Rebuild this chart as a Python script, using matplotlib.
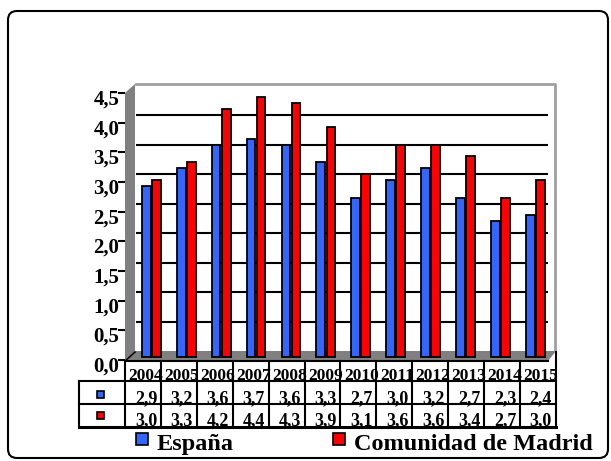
import matplotlib
matplotlib.use("Agg")
import matplotlib.pyplot as plt
import numpy as np
from matplotlib.patches import Polygon, FancyBboxPatch, Rectangle
from matplotlib.transforms import ScaledTranslation

years = ["2004", "2005", "2006", "2007", "2008", "2009",
         "2010", "2011", "2012", "2013", "2014", "2015"]
espana = [2.9, 3.2, 3.6, 3.7, 3.6, 3.3, 2.7, 3.0, 3.2, 2.7, 2.3, 2.4]
madrid = [3.0, 3.3, 4.2, 4.4, 4.3, 3.9, 3.1, 3.6, 3.6, 3.4, 2.7, 3.0]
series_names = ["España", "Comunidad de Madrid"]
series_colors = ["#3366ff", "#ff0000"]
y_ticks = [0.0, 0.5, 1.0, 1.5, 2.0, 2.5, 3.0, 3.5, 4.0, 4.5]

W, H, DPI = 611, 461, 100
plt.rcParams["font.family"] = ["Liberation Serif", "DejaVu Serif"]
plt.rcParams["font.weight"] = "bold"


def fmt(v):
    return f"{v:.1f}".replace(".", ",")


def frac(x0, y0, x1, y1):
    # pixel box, origin top-left -> figure fraction rect
    return [x0 / W, 1 - y1 / H, (x1 - x0) / W, (y1 - y0) / H]


fig = plt.figure(figsize=(W / DPI, H / DPI), dpi=DPI)

# pixel-space layer: frame, 3D walls, data table, legend
deco = fig.add_axes([0, 0, 1, 1], zorder=0)
deco.set_xlim(0, W)
deco.set_ylim(H, 0)
deco.axis("off")

deco.add_patch(FancyBboxPatch((8, 11), 600, 447,
                              boxstyle="round,pad=0,rounding_size=9",
                              fill=False, lw=1.5, ec="black"))

# left wall and floor
deco.add_patch(Polygon([(125, 360), (125, 93), (135, 84), (135, 351)],
                       closed=True, fc="#808080", ec="none"))
deco.add_patch(Polygon([(126, 361), (136, 351), (556, 351), (548, 361)],
                       closed=True, fc="#808080", ec="none"))
deco.plot([125, 548], [361, 361], color="black", lw=1.5)
deco.plot([125, 135], [361, 352], color="black", lw=1.2)
deco.plot([136, 555, 555], [84, 84, 351], color="#a0a0a0", lw=2)

# data table under the floor
col_x0, col_w = 125, 35.9
col_x1 = col_x0 + len(years) * col_w
key_x0 = 79
for i in range(len(years) + 1):
    xx = col_x0 + i * col_w
    deco.plot([xx, xx], [361 if i < len(years) else 352, 426], color="black", lw=1.5)
deco.plot([key_x0, key_x0], [381, 426], color="black", lw=1.5)
deco.plot([key_x0, col_x1], [381, 381], color="black", lw=1.5)
deco.plot([key_x0, col_x1], [404, 404], color="black", lw=1.5)
deco.plot([key_x0, col_x1], [426.5, 426.5], color="black", lw=2.2)

for i, yr in enumerate(years):
    cx = col_x0 + (i + 0.5) * col_w + 3
    deco.text(cx, 379.5, yr, ha="center", va="baseline", fontsize=12.5, fontweight="bold")
    deco.text(cx, 403, fmt(espana[i]), ha="center", va="baseline", fontsize=13, fontweight="bold")
    deco.text(cx, 425.5, fmt(madrid[i]), ha="center", va="baseline", fontsize=13, fontweight="bold")

for cy, c in zip([394, 415], series_colors):
    deco.add_patch(Rectangle((96.5, cy - 3.5), 7, 7, fc=c, ec="black", lw=1.2))

# legend
for lx, name, c in zip([136, 333], series_names, series_colors):
    deco.add_patch(Rectangle((lx, 433), 12, 12, fc=c, ec="black", lw=1.2))
    deco.text(lx + 21, 450, name, ha="left", va="baseline", fontsize=17.5, fontweight="bold")

# back wall with gridlines and bars
ax = fig.add_axes(frac(134, 85.8, 553, 351.3), zorder=1)
ax.patch.set_alpha(0)
ax.axis("off")
ax.set_xlim(0, len(years))
ax.set_ylim(0, 4.5)
ax.hlines(y_ticks[1:-1], 0.07, 11.85, colors="black", lw=1.5, zorder=1)

shift = ax.transData + ScaledTranslation(0, -5.7 / DPI, fig.dpi_scale_trans)
x = np.arange(len(years)) + 0.5
for vals, off, c in zip([espana, madrid], [-0.15, 0.14], series_colors):
    bars = ax.bar(x + off, vals, width=0.25, color=c, edgecolor="black", lw=1.3, zorder=3)
    for b in bars:
        b.set_transform(shift)
        b.set_clip_on(False)

# value axis on the front edge of the left wall
fa = fig.add_axes(frac(125, 93, 126, 360), zorder=2)
fa.patch.set_alpha(0)
for s in fa.spines.values():
    s.set_visible(False)
fa.set_xticks([])
fa.set_ylim(0, 4.5)
fa.set_yticks(y_ticks)
fa.set_yticklabels([fmt(v) for v in y_ticks], fontsize=15, fontweight="bold")
fa.tick_params(axis="y", length=5, width=1.5, pad=-1)
down = ScaledTranslation(0, -4 / DPI, fig.dpi_scale_trans)
for lab in fa.get_yticklabels():
    lab.set_transform(lab.get_transform() + down)

fig.savefig("out.png", dpi=DPI)
